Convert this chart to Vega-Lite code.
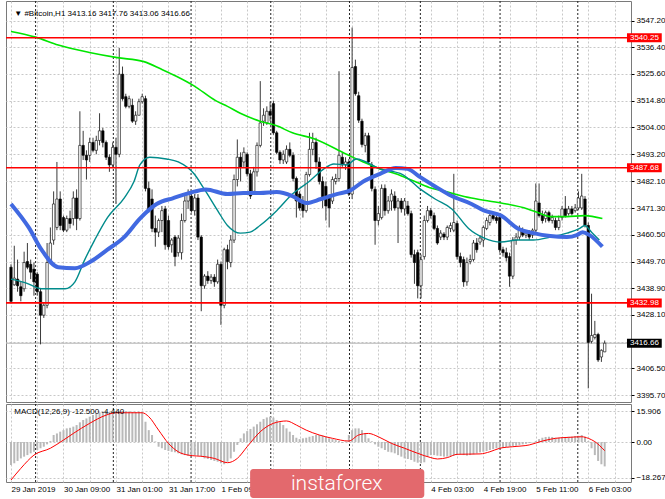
{
  "$schema": "https://vega.github.io/schema/vega-lite/v6.json",
  "description": "Bitcoin H1 candlestick chart with moving averages, levels and MACD",
  "background": "white",
  "padding": {"left": 2, "top": 0, "right": 0, "bottom": 0},
  "bounds": "flush",
  "spacing": 2,
  "config": {
    "view": {"stroke": "#7a7a7a", "strokeWidth": 1},
    "axis": {"labelFont": "Liberation Sans", "labelFontSize": 8, "labelColor": "#000", "gridColor": "#c8c8c8", "gridDash": [2, 2], "title": null, "labelOverlap": false, "labelBound": false, "labelFlush": false},
    "text": {"font": "Liberation Sans"}
  },
  "datasets": {
    "candles": [
      {"b":0,"o":3447.4,"h":3448.6,"l":3432.8,"c":3433.6,"m":-11.8},
      {"b":1,"o":3440.3,"h":3456.1,"l":3439.9,"c":3443.0,"m":-10.9},
      {"b":2,"o":3442.6,"h":3450.5,"l":3437.5,"c":3439.9,"m":-9.7},
      {"b":3,"o":3439.5,"h":3441.5,"l":3433.6,"c":3435.9,"m":-8.4},
      {"b":4,"o":3438.7,"h":3453.7,"l":3437.5,"c":3449.3,"m":-7.5},
      {"b":5,"o":3449.7,"h":3457.2,"l":3446.6,"c":3447.4,"m":-6.7},
      {"b":6,"o":3448.6,"h":3450.5,"l":3442.6,"c":3445.4,"m":-5.8},
      {"b":7,"o":3446.6,"h":3449.3,"l":3435.9,"c":3441.5,"m":-5.0},
      {"b":8,"o":3444.6,"h":3445.4,"l":3435.9,"c":3437.5,"m":-4.1},
      {"b":9,"o":3437.5,"h":3438.7,"l":3416.2,"c":3428.0,"m":-3.2},
      {"b":10,"o":3428.0,"h":3432.8,"l":3426.9,"c":3432.0,"m":-2.4},
      {"b":11,"o":3432.0,"h":3457.2,"l":3430.8,"c":3449.3,"m":-1.2},
      {"b":12,"o":3449.3,"h":3463.5,"l":3448.6,"c":3457.2,"m":0.5},
      {"b":13,"o":3458.4,"h":3478.1,"l":3456.5,"c":3473.0,"m":3.6},
      {"b":14,"o":3463.5,"h":3490.0,"l":3462.4,"c":3475.0,"m":4.4},
      {"b":15,"o":3475.0,"h":3478.1,"l":3462.4,"c":3464.3,"m":5.3},
      {"b":16,"o":3467.5,"h":3468.3,"l":3461.6,"c":3462.4,"m":6.1},
      {"b":17,"o":3462.4,"h":3468.3,"l":3461.6,"c":3467.1,"m":7.0},
      {"b":18,"o":3467.1,"h":3470.3,"l":3463.1,"c":3465.1,"m":7.3},
      {"b":19,"o":3467.1,"h":3478.1,"l":3464.3,"c":3475.4,"m":7.9},
      {"b":20,"o":3475.4,"h":3478.9,"l":3462.4,"c":3467.1,"m":8.7},
      {"b":21,"o":3467.1,"h":3510.5,"l":3466.3,"c":3496.7,"m":10.1},
      {"b":22,"o":3496.7,"h":3502.6,"l":3490.8,"c":3492.7,"m":11.3},
      {"b":23,"o":3492.7,"h":3494.7,"l":3482.9,"c":3490.8,"m":12.1},
      {"b":24,"o":3492.7,"h":3499.8,"l":3490.0,"c":3497.9,"m":13.0},
      {"b":25,"o":3497.9,"h":3499.8,"l":3493.9,"c":3494.7,"m":13.8},
      {"b":26,"o":3494.7,"h":3500.6,"l":3493.1,"c":3498.7,"m":14.7},
      {"b":27,"o":3498.7,"h":3509.7,"l":3496.7,"c":3502.6,"m":15.2},
      {"b":28,"o":3502.6,"h":3503.8,"l":3495.9,"c":3497.9,"m":15.5},
      {"b":29,"o":3497.9,"h":3498.7,"l":3490.8,"c":3491.9,"m":15.7},
      {"b":30,"o":3491.9,"h":3493.1,"l":3486.0,"c":3488.8,"m":15.4},
      {"b":31,"o":3488.8,"h":3497.9,"l":3488.0,"c":3495.9,"m":15.6},
      {"b":32,"o":3495.9,"h":3499.8,"l":3473.0,"c":3493.1,"m":15.8},
      {"b":33,"o":3493.1,"h":3536.1,"l":3491.9,"c":3525.5,"m":15.9},
      {"b":34,"o":3525.5,"h":3528.6,"l":3514.8,"c":3515.6,"m":15.9},
      {"b":35,"o":3516.4,"h":3517.6,"l":3511.7,"c":3512.5,"m":15.8},
      {"b":36,"o":3512.5,"h":3516.8,"l":3511.7,"c":3515.6,"m":15.7},
      {"b":37,"o":3512.9,"h":3515.6,"l":3505.8,"c":3506.5,"m":15.5},
      {"b":38,"o":3506.5,"h":3510.5,"l":3505.0,"c":3508.9,"m":15.4},
      {"b":39,"o":3508.9,"h":3515.6,"l":3508.9,"c":3514.4,"m":15.5},
      {"b":40,"o":3514.4,"h":3517.6,"l":3513.6,"c":3516.4,"m":15.3},
      {"b":41,"o":3515.6,"h":3516.8,"l":3478.1,"c":3479.3,"m":10.4},
      {"b":42,"o":3479.3,"h":3482.1,"l":3469.5,"c":3470.3,"m":6.1},
      {"b":43,"o":3475.0,"h":3478.9,"l":3461.6,"c":3463.1,"m":3.6},
      {"b":44,"o":3463.1,"h":3468.3,"l":3455.7,"c":3461.6,"m":0.3},
      {"b":45,"o":3461.6,"h":3467.1,"l":3459.6,"c":3466.3,"m":-2.4},
      {"b":46,"o":3466.3,"h":3472.2,"l":3461.6,"c":3470.3,"m":-3.2},
      {"b":47,"o":3471.0,"h":3472.2,"l":3454.5,"c":3456.5,"m":-4.1},
      {"b":48,"o":3466.3,"h":3468.3,"l":3454.5,"c":3455.7,"m":-4.6},
      {"b":49,"o":3456.5,"h":3459.2,"l":3453.3,"c":3458.4,"m":-5.0},
      {"b":50,"o":3459.6,"h":3460.4,"l":3447.8,"c":3451.7,"m":-5.3},
      {"b":51,"o":3453.3,"h":3460.4,"l":3451.7,"c":3459.2,"m":-5.8},
      {"b":52,"o":3453.3,"h":3469.1,"l":3450.5,"c":3466.3,"m":-6.3},
      {"b":53,"o":3466.3,"h":3476.2,"l":3465.5,"c":3474.2,"m":-6.7},
      {"b":54,"o":3474.2,"h":3478.9,"l":3471.0,"c":3477.0,"m":-7.0},
      {"b":55,"o":3476.2,"h":3478.1,"l":3469.5,"c":3470.3,"m":-7.0},
      {"b":56,"o":3470.3,"h":3477.0,"l":3468.3,"c":3475.4,"m":-6.7},
      {"b":57,"o":3475.4,"h":3477.0,"l":3458.4,"c":3459.6,"m":-7.0},
      {"b":58,"o":3459.6,"h":3460.4,"l":3429.6,"c":3439.9,"m":-7.5},
      {"b":59,"o":3439.9,"h":3444.6,"l":3438.7,"c":3443.8,"m":-8.4},
      {"b":60,"o":3443.8,"h":3445.8,"l":3440.7,"c":3442.0,"m":-8.7},
      {"b":61,"o":3442.0,"h":3444.6,"l":3440.7,"c":3443.4,"m":-9.2},
      {"b":62,"o":3443.4,"h":3444.6,"l":3439.5,"c":3441.5,"m":-9.7},
      {"b":63,"o":3441.5,"h":3450.5,"l":3440.7,"c":3448.6,"m":-10.1},
      {"b":64,"o":3448.6,"h":3449.7,"l":3424.1,"c":3432.0,"m":-10.9},
      {"b":65,"o":3432.0,"h":3455.3,"l":3430.8,"c":3454.5,"m":-11.4},
      {"b":66,"o":3454.5,"h":3456.5,"l":3446.6,"c":3449.7,"m":-10.1},
      {"b":67,"o":3449.3,"h":3460.4,"l":3447.4,"c":3458.4,"m":-8.4},
      {"b":68,"o":3458.4,"h":3484.9,"l":3457.2,"c":3482.9,"m":-5.0},
      {"b":69,"o":3482.9,"h":3499.1,"l":3480.1,"c":3491.9,"m":-1.5},
      {"b":70,"o":3491.9,"h":3493.9,"l":3482.1,"c":3488.0,"m":1.9},
      {"b":71,"o":3490.0,"h":3495.9,"l":3488.0,"c":3493.9,"m":4.4},
      {"b":72,"o":3493.1,"h":3493.9,"l":3484.1,"c":3485.2,"m":5.6},
      {"b":73,"o":3485.2,"h":3486.8,"l":3475.0,"c":3476.2,"m":6.7},
      {"b":74,"o":3478.1,"h":3488.0,"l":3477.4,"c":3486.0,"m":7.9},
      {"b":75,"o":3486.0,"h":3497.9,"l":3484.1,"c":3496.7,"m":9.1},
      {"b":76,"o":3496.7,"h":3522.7,"l":3495.9,"c":3505.8,"m":10.4},
      {"b":77,"o":3506.5,"h":3511.7,"l":3504.6,"c":3508.9,"m":11.8},
      {"b":78,"o":3505.8,"h":3512.5,"l":3505.0,"c":3510.5,"m":12.6},
      {"b":79,"o":3510.5,"h":3514.4,"l":3506.5,"c":3508.9,"m":13.0},
      {"b":80,"o":3513.6,"h":3514.8,"l":3501.0,"c":3501.8,"m":12.5},
      {"b":81,"o":3501.8,"h":3502.6,"l":3493.1,"c":3493.9,"m":11.3},
      {"b":82,"o":3493.9,"h":3494.7,"l":3489.2,"c":3490.8,"m":10.1},
      {"b":83,"o":3490.8,"h":3494.7,"l":3489.2,"c":3493.1,"m":8.7},
      {"b":84,"o":3490.0,"h":3496.7,"l":3489.2,"c":3495.1,"m":7.0},
      {"b":85,"o":3495.1,"h":3497.9,"l":3491.9,"c":3492.7,"m":5.3},
      {"b":86,"o":3492.7,"h":3493.9,"l":3482.1,"c":3483.3,"m":3.6},
      {"b":87,"o":3483.3,"h":3484.1,"l":3467.5,"c":3474.2,"m":2.2},
      {"b":88,"o":3477.0,"h":3478.1,"l":3470.3,"c":3471.4,"m":1.5},
      {"b":89,"o":3474.2,"h":3476.2,"l":3467.5,"c":3470.3,"m":1.9},
      {"b":90,"o":3470.3,"h":3486.0,"l":3469.5,"c":3484.9,"m":2.2},
      {"b":91,"o":3484.9,"h":3501.8,"l":3484.1,"c":3495.1,"m":2.7},
      {"b":92,"o":3495.1,"h":3501.8,"l":3492.7,"c":3497.9,"m":3.1},
      {"b":93,"o":3497.9,"h":3499.8,"l":3487.2,"c":3490.0,"m":3.6},
      {"b":94,"o":3490.0,"h":3491.9,"l":3480.9,"c":3482.1,"m":3.6},
      {"b":95,"o":3482.1,"h":3484.1,"l":3471.4,"c":3475.4,"m":3.2},
      {"b":96,"o":3480.1,"h":3482.1,"l":3466.3,"c":3472.2,"m":2.7},
      {"b":97,"o":3475.4,"h":3477.0,"l":3463.5,"c":3471.4,"m":1.9},
      {"b":98,"o":3474.2,"h":3484.1,"l":3473.0,"c":3482.9,"m":1.5},
      {"b":99,"o":3482.1,"h":3485.2,"l":3480.9,"c":3483.3,"m":1.0},
      {"b":100,"o":3483.3,"h":3526.7,"l":3482.1,"c":3492.7,"m":0.5},
      {"b":101,"o":3491.9,"h":3493.9,"l":3488.0,"c":3488.8,"m":-0.5},
      {"b":102,"o":3488.8,"h":3491.9,"l":3486.8,"c":3490.0,"m":0.3},
      {"b":103,"o":3490.0,"h":3491.2,"l":3476.2,"c":3477.0,"m":3.6},
      {"b":104,"o":3477.0,"h":3544.4,"l":3475.0,"c":3528.2,"m":6.1},
      {"b":105,"o":3528.6,"h":3531.4,"l":3516.8,"c":3517.6,"m":7.0},
      {"b":106,"o":3516.8,"h":3518.4,"l":3505.8,"c":3506.9,"m":7.0},
      {"b":107,"o":3506.5,"h":3507.5,"l":3495.9,"c":3497.1,"m":6.1},
      {"b":108,"o":3496.7,"h":3501.8,"l":3493.9,"c":3500.6,"m":4.4},
      {"b":109,"o":3500.6,"h":3501.8,"l":3489.2,"c":3490.0,"m":1.9},
      {"b":110,"o":3488.8,"h":3490.0,"l":3478.1,"c":3479.3,"m":0.4},
      {"b":111,"o":3478.9,"h":3480.1,"l":3456.5,"c":3466.3,"m":-1.2},
      {"b":112,"o":3466.3,"h":3472.2,"l":3464.3,"c":3469.1,"m":-2.4},
      {"b":113,"o":3467.5,"h":3480.9,"l":3466.7,"c":3479.3,"m":-3.2},
      {"b":114,"o":3479.3,"h":3480.9,"l":3468.3,"c":3470.3,"m":-4.1},
      {"b":115,"o":3470.3,"h":3476.2,"l":3469.1,"c":3474.2,"m":-5.0},
      {"b":116,"o":3474.2,"h":3478.9,"l":3470.3,"c":3477.0,"m":-5.3},
      {"b":117,"o":3476.2,"h":3478.1,"l":3470.3,"c":3471.4,"m":-5.8},
      {"b":118,"o":3471.4,"h":3475.4,"l":3457.2,"c":3474.2,"m":-6.7},
      {"b":119,"o":3474.2,"h":3475.4,"l":3469.5,"c":3471.0,"m":-7.5},
      {"b":120,"o":3471.0,"h":3475.4,"l":3468.3,"c":3474.2,"m":-8.4},
      {"b":121,"o":3472.2,"h":3474.2,"l":3468.3,"c":3469.1,"m":-8.7},
      {"b":122,"o":3469.1,"h":3470.3,"l":3451.3,"c":3452.5,"m":-9.2},
      {"b":123,"o":3452.5,"h":3454.5,"l":3440.7,"c":3449.3,"m":-10.1},
      {"b":124,"o":3453.3,"h":3454.5,"l":3434.8,"c":3439.9,"m":-10.6},
      {"b":125,"o":3439.9,"h":3452.5,"l":3434.8,"c":3450.5,"m":-10.9},
      {"b":126,"o":3451.7,"h":3468.3,"l":3450.5,"c":3466.3,"m":-10.4},
      {"b":127,"o":3466.3,"h":3472.2,"l":3465.5,"c":3470.3,"m":-7.5},
      {"b":128,"o":3470.3,"h":3471.4,"l":3467.1,"c":3468.3,"m":-6.7},
      {"b":129,"o":3468.3,"h":3469.5,"l":3462.4,"c":3463.1,"m":-6.7},
      {"b":130,"o":3463.1,"h":3464.3,"l":3456.5,"c":3457.2,"m":-7.0},
      {"b":131,"o":3459.6,"h":3462.4,"l":3458.4,"c":3461.2,"m":-7.2},
      {"b":132,"o":3460.8,"h":3461.6,"l":3458.4,"c":3459.6,"m":-7.5},
      {"b":133,"o":3459.6,"h":3464.3,"l":3458.4,"c":3463.5,"m":-7.5},
      {"b":134,"o":3463.1,"h":3465.5,"l":3461.6,"c":3464.3,"m":-7.2},
      {"b":135,"o":3462.4,"h":3485.2,"l":3461.6,"c":3465.5,"m":-7.0},
      {"b":136,"o":3465.1,"h":3466.3,"l":3450.5,"c":3451.7,"m":-6.7},
      {"b":137,"o":3451.7,"h":3453.3,"l":3447.4,"c":3449.3,"m":-6.3},
      {"b":138,"o":3450.5,"h":3451.7,"l":3439.5,"c":3441.5,"m":-6.7},
      {"b":139,"o":3441.5,"h":3451.3,"l":3439.9,"c":3449.3,"m":-7.0},
      {"b":140,"o":3449.7,"h":3452.5,"l":3448.6,"c":3450.5,"m":-6.7},
      {"b":141,"o":3450.5,"h":3458.4,"l":3449.7,"c":3457.2,"m":-6.3},
      {"b":142,"o":3457.2,"h":3459.2,"l":3453.3,"c":3454.5,"m":-5.8},
      {"b":143,"o":3457.6,"h":3460.4,"l":3456.5,"c":3459.2,"m":-5.3},
      {"b":144,"o":3458.4,"h":3464.3,"l":3455.7,"c":3463.5,"m":-5.0},
      {"b":145,"o":3463.1,"h":3467.5,"l":3462.4,"c":3466.3,"m":-4.6},
      {"b":146,"o":3465.5,"h":3469.5,"l":3464.3,"c":3468.3,"m":-4.1},
      {"b":147,"o":3468.3,"h":3469.5,"l":3466.3,"c":3467.1,"m":-3.6},
      {"b":148,"o":3467.5,"h":3469.1,"l":3465.1,"c":3466.3,"m":-3.2},
      {"b":149,"o":3467.5,"h":3469.1,"l":3453.3,"c":3454.5,"m":-3.2},
      {"b":150,"o":3454.5,"h":3455.7,"l":3451.7,"c":3453.3,"m":-2.9},
      {"b":151,"o":3453.3,"h":3455.3,"l":3449.7,"c":3451.3,"m":-2.6},
      {"b":152,"o":3451.7,"h":3453.3,"l":3439.5,"c":3443.8,"m":-2.4},
      {"b":153,"o":3443.8,"h":3459.6,"l":3442.6,"c":3458.4,"m":-2.0},
      {"b":154,"o":3458.4,"h":3461.2,"l":3456.5,"c":3459.6,"m":-1.9},
      {"b":155,"o":3459.6,"h":3464.3,"l":3458.4,"c":3463.1,"m":-1.5},
      {"b":156,"o":3462.4,"h":3463.5,"l":3459.6,"c":3460.4,"m":-1.2},
      {"b":157,"o":3460.4,"h":3462.4,"l":3459.2,"c":3461.2,"m":-0.9},
      {"b":158,"o":3461.2,"h":3462.4,"l":3458.4,"c":3459.6,"m":-0.5},
      {"b":159,"o":3460.4,"h":3463.1,"l":3459.2,"c":3462.4,"m":-0.2},
      {"b":160,"o":3462.4,"h":3481.3,"l":3461.6,"c":3474.2,"m":0.5},
      {"b":161,"o":3473.4,"h":3481.3,"l":3467.5,"c":3468.3,"m":1.5},
      {"b":162,"o":3468.3,"h":3470.3,"l":3465.1,"c":3466.3,"m":2.2},
      {"b":163,"o":3467.1,"h":3470.3,"l":3465.5,"c":3469.5,"m":2.6},
      {"b":164,"o":3469.5,"h":3470.3,"l":3465.5,"c":3466.3,"m":2.7},
      {"b":165,"o":3466.3,"h":3468.7,"l":3465.1,"c":3467.5,"m":2.6},
      {"b":166,"o":3466.3,"h":3467.5,"l":3462.4,"c":3463.5,"m":2.2},
      {"b":167,"o":3463.5,"h":3468.3,"l":3462.4,"c":3466.3,"m":2.2},
      {"b":168,"o":3467.5,"h":3472.2,"l":3466.3,"c":3471.0,"m":2.4},
      {"b":169,"o":3471.0,"h":3476.2,"l":3467.5,"c":3468.3,"m":2.6},
      {"b":170,"o":3469.1,"h":3472.2,"l":3468.3,"c":3471.0,"m":2.7},
      {"b":171,"o":3471.0,"h":3472.2,"l":3468.3,"c":3469.1,"m":2.7},
      {"b":172,"o":3470.3,"h":3473.0,"l":3469.5,"c":3471.4,"m":3.1},
      {"b":173,"o":3471.4,"h":3478.1,"l":3470.6,"c":3475.4,"m":3.2},
      {"b":174,"o":3471.4,"h":3485.2,"l":3470.6,"c":3476.2,"m":3.6},
      {"b":175,"o":3475.0,"h":3476.2,"l":3463.5,"c":3464.3,"m":2.7},
      {"b":176,"o":3464.3,"h":3465.5,"l":3398.4,"c":3417.0,"m":0.5},
      {"b":177,"o":3417.4,"h":3436.7,"l":3416.6,"c":3419.8,"m":-3.2},
      {"b":178,"o":3419.0,"h":3425.7,"l":3418.2,"c":3420.2,"m":-6.7},
      {"b":179,"o":3420.2,"h":3420.9,"l":3409.1,"c":3409.9,"m":-9.7},
      {"b":180,"o":3411.1,"h":3414.2,"l":3409.1,"c":3413.8,"m":-11.4},
      {"b":181,"o":3413.16,"h":3417.76,"l":3413.06,"c":3416.66,"m":-12.5}
    ],
    "ma_g": [
      {"b":0,"v":3542.8},{"b":7.5,"v":3540.5},{"b":14.4,"v":3537.3},{"b":24.3,"v":3534.2},{"b":32.4,"v":3532.2},
      {"b":40.5,"v":3530.6},{"b":45.9,"v":3527.5},{"b":50.4,"v":3524.7},{"b":55.8,"v":3520.8},{"b":62.4,"v":3514.8},
      {"b":66,"v":3512.5},{"b":69.9,"v":3509.7},{"b":75.9,"v":3506.5},{"b":81,"v":3504.6},{"b":85.8,"v":3501.8},
      {"b":92.4,"v":3499.4},{"b":102.3,"v":3493.1},{"b":107.4,"v":3490.0},{"b":112.5,"v":3487.2},{"b":117.3,"v":3485.2},
      {"b":122.4,"v":3482.5},{"b":127.5,"v":3479.7},{"b":132.3,"v":3478.1},{"b":140.4,"v":3475.4},{"b":149.4,"v":3473.4},
      {"b":157.5,"v":3471.0},{"b":161.4,"v":3469.1},{"b":164.4,"v":3467.9},{"b":169.5,"v":3467.9},{"b":174.9,"v":3468.3},
      {"b":180.3,"v":3467.1}
    ],
    "ma_t": [
      {"b":0,"v":3442.6},{"b":4.5,"v":3441.1},{"b":9.3,"v":3438.7},{"b":16.5,"v":3438.7},{"b":19.5,"v":3441.5},
      {"b":22.5,"v":3450.5},{"b":25.5,"v":3458.4},{"b":29.4,"v":3467.5},{"b":34.5,"v":3475.4},{"b":37.5,"v":3482.1},
      {"b":39.3,"v":3488.8},{"b":42.3,"v":3491.9},{"b":47.4,"v":3491.2},{"b":51,"v":3490.0},{"b":55.8,"v":3485.2},
      {"b":58.8,"v":3479.3},{"b":63,"v":3470.3},{"b":66,"v":3464.3},{"b":69.9,"v":3461.2},{"b":72.9,"v":3461.6},
      {"b":75.9,"v":3464.3},{"b":81,"v":3470.3},{"b":85.8,"v":3477.0},{"b":90.9,"v":3482.1},{"b":95.4,"v":3487.2},
      {"b":98.4,"v":3489.2},{"b":102.3,"v":3488.8},{"b":105.3,"v":3491.2},{"b":112.5,"v":3487.2},{"b":119.4,"v":3484.9},
      {"b":124.5,"v":3479.3},{"b":129.3,"v":3475.0},{"b":134.4,"v":3471.0},{"b":139.5,"v":3463.1},{"b":144.3,"v":3459.2},
      {"b":149.4,"v":3457.6},{"b":154.5,"v":3458.4},{"b":159.3,"v":3458.4},{"b":164.4,"v":3459.6},{"b":169.5,"v":3461.2},
      {"b":173.4,"v":3463.1},{"b":174.9,"v":3464.3},{"b":177,"v":3461.6},{"b":179.4,"v":3458.4}
    ],
    "ma_b": [
      {"b":0,"v":3473.0},{"b":5.4,"v":3463.5},{"b":9.3,"v":3454.5},{"b":14.4,"v":3447.4},{"b":19.5,"v":3447.0},
      {"b":24.3,"v":3449.7},{"b":29.4,"v":3454.5},{"b":34.5,"v":3459.6},{"b":39.3,"v":3467.1},{"b":44.4,"v":3473.0},
      {"b":49.5,"v":3475.4},{"b":54.3,"v":3477.4},{"b":59.4,"v":3478.9},{"b":66,"v":3477.0},{"b":70.8,"v":3477.4},
      {"b":75.9,"v":3477.4},{"b":81,"v":3477.8},{"b":85.8,"v":3476.2},{"b":90,"v":3473.4},{"b":94.5,"v":3475.0},
      {"b":99.3,"v":3477.0},{"b":103.5,"v":3478.5},{"b":107.4,"v":3482.1},{"b":112.5,"v":3485.2},{"b":117.3,"v":3487.6},
      {"b":120.9,"v":3487.2},{"b":124.5,"v":3484.1},{"b":129.3,"v":3480.1},{"b":134.4,"v":3476.2},{"b":140.4,"v":3473.0},
      {"b":144.3,"v":3470.3},{"b":149.4,"v":3468.3},{"b":154.5,"v":3463.1},{"b":159.3,"v":3461.2},{"b":164.4,"v":3460.0},
      {"b":169.5,"v":3459.6},{"b":172.5,"v":3460.4},{"b":174.3,"v":3461.6},{"b":176.4,"v":3460.4},{"b":180.3,"v":3455.7}
    ],
    "sig": [
      {"b":0,"v":-19.5},{"b":3,"v":-13.5},{"b":7,"v":-6.7},{"b":12,"v":-3.2},{"b":16,"v":1.0},{"b":19,"v":4.4},
      {"b":24,"v":9.6},{"b":29,"v":13.8},{"b":32,"v":15.0},{"b":40,"v":15.0},{"b":42,"v":13.0},{"b":45,"v":6.1},
      {"b":48,"v":-0.7},{"b":51,"v":-5.0},{"b":54,"v":-6.7},{"b":59,"v":-7.5},{"b":62,"v":-8.4},{"b":66,"v":-10.6},
      {"b":69,"v":-8.4},{"b":72,"v":-2.4},{"b":76,"v":5.3},{"b":80,"v":9.6},{"b":84,"v":10.8},{"b":87,"v":8.7},
      {"b":90,"v":6.1},{"b":94,"v":3.6},{"b":98,"v":1.9},{"b":103,"v":0.5},{"b":106,"v":3.6},{"b":109,"v":4.4},
      {"b":112,"v":2.7},{"b":116,"v":-0.7},{"b":120,"v":-3.2},{"b":124,"v":-5.8},{"b":128,"v":-8.0},{"b":130,"v":-8.7},
      {"b":133,"v":-8.0},{"b":136,"v":-6.3},{"b":143,"v":-6.1},{"b":146,"v":-5.0},{"b":149,"v":-3.2},{"b":153,"v":-2.4},
      {"b":158,"v":-1.5},{"b":162,"v":0.5},{"b":166,"v":1.9},{"b":170,"v":2.4},{"b":174,"v":2.7},{"b":176,"v":1.9},
      {"b":178,"v":0.2},{"b":181,"v":-4.44}
    ],
    "seps": [
      {"b":7.5},{"b":31.2},{"b":54.9},{"b":79.2},{"b":103.2},{"b":124.8},{"b":149.1},{"b":172.8}
    ]
  },
  "vconcat": [
    {
      "width": 625,
      "height": 401,
      "layer": [
        {
          "data": {"name": "seps"},
          "mark": {"type": "rule", "color": "#222222", "strokeDash": [2, 2], "strokeWidth": 1},
          "encoding": {
            "x": {
              "field": "b", "type": "quantitative",
              "scale": {"domain": [0, 187.5], "nice": false, "zero": false},
              "axis": {"values": [0,8,16,24,32,40,48,56,64,72,80,88,96,104,112,120,128,136,144,152,160,168,176,184], "tickCount": 100, "labels": false, "ticks": false, "domain": false, "grid": true}
            }
          }
        },
        {
          "data": {"values": [{"p": 3416.66}]},
          "mark": {"type": "rule", "color": "#b4b4b4", "strokeWidth": 1},
          "encoding": {
            "y": {
              "field": "p", "type": "quantitative",
              "scale": {"domain": [3394.9, 3553.1], "nice": false, "zero": false},
              "axis": {"orient": "right", "values": [3547.2,3536.4,3525.6,3514.8,3504.0,3493.2,3482.1,3471.3,3460.5,3449.7,3438.9,3428.1,3417.3,3406.5,3395.7], "tickCount": 100, "labelExpr": "abs(datum.value - 3417.3) < 0.01 ? '' : format(datum.value, '.2f')", "labelOverlap": false, "grid": true, "domain": false, "tickSize": 3, "tickColor": "#000", "labelPadding": 2}
            }
          }
        },
        {
          "data": {"name": "candles"},
          "mark": {"type": "rule", "color": "#3a3a3a", "strokeWidth": 1},
          "encoding": {
            "x": {"field": "b", "type": "quantitative", "scale": {"domain": [0, 187.5], "nice": false, "zero": false}},
            "y": {"field": "l", "type": "quantitative", "scale": {"domain": [3394.9, 3553.1], "nice": false, "zero": false}},
            "y2": {"field": "h"}
          }
        },
        {
          "data": {"name": "candles"},
          "mark": {"type": "bar", "size": 2.4, "stroke": "#000000", "strokeWidth": 0.6},
          "encoding": {
            "x": {"field": "b", "type": "quantitative", "scale": {"domain": [0, 187.5], "nice": false, "zero": false}},
            "y": {"field": "o", "type": "quantitative", "scale": {"domain": [3394.9, 3553.1], "nice": false, "zero": false}},
            "y2": {"field": "c"},
            "fill": {"condition": {"test": "datum.c >= datum.o", "value": "#ffffff"}, "value": "#000000"}
          }
        },
        {
          "data": {"name": "ma_g"},
          "mark": {"type": "line", "color": "#00e600", "strokeWidth": 1.6, "interpolate": "monotone"},
          "encoding": {
            "x": {"field": "b", "type": "quantitative", "scale": {"domain": [0, 187.5], "nice": false, "zero": false}},
            "y": {"field": "v", "type": "quantitative", "scale": {"domain": [3394.9, 3553.1], "nice": false, "zero": false}}
          }
        },
        {
          "data": {"name": "ma_t"},
          "mark": {"type": "line", "color": "#008b8b", "strokeWidth": 1.4, "interpolate": "monotone"},
          "encoding": {
            "x": {"field": "b", "type": "quantitative", "scale": {"domain": [0, 187.5], "nice": false, "zero": false}},
            "y": {"field": "v", "type": "quantitative", "scale": {"domain": [3394.9, 3553.1], "nice": false, "zero": false}}
          }
        },
        {
          "data": {"name": "ma_b"},
          "mark": {"type": "line", "color": "#4169e1", "strokeWidth": 4, "interpolate": "monotone"},
          "encoding": {
            "x": {"field": "b", "type": "quantitative", "scale": {"domain": [0, 187.5], "nice": false, "zero": false}},
            "y": {"field": "v", "type": "quantitative", "scale": {"domain": [3394.9, 3553.1], "nice": false, "zero": false}}
          }
        },
        {
          "data": {"values": [{"p": 3540.25}, {"p": 3487.68}, {"p": 3432.98}]},
          "mark": {"type": "rule", "color": "#ff0000", "strokeWidth": 1.6},
          "encoding": {
            "y": {"field": "p", "type": "quantitative", "scale": {"domain": [3394.9, 3553.1], "nice": false, "zero": false}}
          }
        },
        {
          "data": {"values": [{"p": 3540.25, "k": "lvl"}, {"p": 3487.68, "k": "lvl"}, {"p": 3432.98, "k": "lvl"}, {"p": 3416.66, "k": "now"}]},
          "mark": {"type": "bar", "orient": "horizontal", "size": 9},
          "encoding": {
            "x": {"datum": 187.8},
            "x2": {"datum": 198.4},
            "y": {"field": "p", "type": "quantitative", "scale": {"domain": [3394.9, 3553.1], "nice": false, "zero": false}},
            "color": {"field": "k", "type": "nominal", "scale": {"domain": ["lvl", "now"], "range": ["#ff0000", "#000000"]}, "legend": null}
          }
        },
        {
          "data": {"values": [{"p": 3540.25}, {"p": 3487.68}, {"p": 3432.98}, {"p": 3416.66}]},
          "mark": {"type": "text", "align": "left", "baseline": "middle", "color": "#ffffff", "fontSize": 8},
          "encoding": {
            "x": {"datum": 188.7},
            "y": {"field": "p", "type": "quantitative", "scale": {"domain": [3394.9, 3553.1], "nice": false, "zero": false}},
            "text": {"field": "p", "type": "quantitative", "format": ".2f"}
          }
        },
        {
          "data": {"values": [{"t": "▼  #Bitcoin,H1  3413.16 3417.76 3413.06 3416.66"}]},
          "mark": {"type": "text", "align": "left", "baseline": "middle", "color": "#000000", "fontSize": 8},
          "encoding": {
            "x": {"datum": 1},
            "y": {"datum": 3549.9},
            "text": {"field": "t"}
          }
        }
      ]
    },
    {
      "width": 625,
      "height": 78,
      "layer": [
        {
          "data": {"name": "seps"},
          "mark": {"type": "rule", "color": "#222222", "strokeDash": [2, 2], "strokeWidth": 1},
          "encoding": {
            "x": {
              "field": "b", "type": "quantitative",
              "scale": {"domain": [0, 187.5], "nice": false, "zero": false},
              "axis": {
                "values": [0,8,16,24,32,40,48,56,64,72,80,88,96,104,112,120,128,136,144,152,160,168,176,184],
                "tickCount": 100,
                "labelExpr": "datum.value==0?'29 Jan 2019':datum.value==16?'30 Jan 09:00':datum.value==32?'31 Jan 01:00':datum.value==48?'31 Jan 17:00':datum.value==64?'1 Feb 09:00':datum.value==128?'4 Feb 03:00':datum.value==144?'4 Feb 19:00':datum.value==160?'5 Feb 11:00':datum.value==176?'6 Feb 03:00':''",
                "labelAlign": "left", "labelPadding": 3, "labelOverlap": false, "ticks": false, "domain": false, "grid": true
              }
            }
          }
        },
        {
          "data": {"name": "candles"},
          "mark": {"type": "bar", "size": 2, "color": "#b9b9b9"},
          "encoding": {
            "x": {"field": "b", "type": "quantitative", "scale": {"domain": [0, 187.5], "nice": false, "zero": false}},
            "y": {
              "field": "m", "type": "quantitative",
              "scale": {"domain": [-20.5, 19.5], "nice": false, "zero": false},
              "axis": {"orient": "right", "values": [15.906, 0, -18.267], "tickCount": 100, "labelExpr": "datum.value == 0 ? '0.00' : format(datum.value, '.3f')", "labelOverlap": false, "grid": true, "domain": false, "tickSize": 3, "tickColor": "#000", "labelPadding": 2}
            },
            "y2": {"datum": 0}
          }
        },
        {
          "data": {"name": "sig"},
          "mark": {"type": "line", "color": "#ff0000", "strokeWidth": 1, "interpolate": "monotone"},
          "encoding": {
            "x": {"field": "b", "type": "quantitative", "scale": {"domain": [0, 187.5], "nice": false, "zero": false}},
            "y": {"field": "v", "type": "quantitative", "scale": {"domain": [-20.5, 19.5], "nice": false, "zero": false}}
          }
        },
        {
          "data": {"values": [{"t": "MACD(12,26,9) -12.500 -4.440"}]},
          "mark": {"type": "text", "align": "left", "baseline": "middle", "color": "#000000", "fontSize": 8},
          "encoding": {
            "x": {"datum": 1},
            "y": {"datum": 15.4},
            "text": {"field": "t"}
          }
        },
        {
          "data": {"values": [{"t": "instaforex"}]},
          "mark": {"type": "rect", "color": "#e3696d", "cornerRadius": 3},
          "encoding": {
            "x": {"datum": 72.9},
            "x2": {"datum": 126.0},
            "y": {"datum": -13.8},
            "y2": {"datum": -28.7}
          }
        },
        {
          "data": {"values": [{"t": "instaforex"}]},
          "mark": {"type": "text", "align": "center", "baseline": "middle", "color": "#ffffff", "font": "Roboto", "fontWeight": 300, "fontSize": 21},
          "encoding": {
            "x": {"datum": 99.3},
            "y": {"datum": -21.6},
            "text": {"field": "t"}
          }
        }
      ]
    }
  ]
}
